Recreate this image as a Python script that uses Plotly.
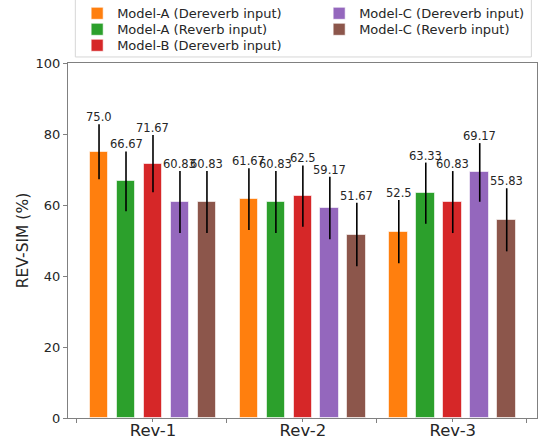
import plotly.graph_objects as go

categories = ["Rev-1", "Rev-2", "Rev-3"]
series_names = ["Model-A (Dereverb input)", "Model-A (Reverb input)",
                "Model-B (Dereverb input)", "Model-C (Dereverb input)",
                "Model-C (Reverb input)"]
values = [
    [75.0, 61.67, 52.5],
    [66.67, 60.83, 63.33],
    [71.67, 62.5, 60.83],
    [60.83, 59.17, 69.17],
    [60.83, 51.67, 55.83],
]
errors = [
    [7.75, 8.70, 8.93],
    [8.43, 8.73, 8.62],
    [8.06, 8.66, 8.73],
    [8.73, 8.79, 8.26],
    [8.73, 8.94, 8.89],
]
labels = [
    ["75.0", "61.67", "52.5"],
    ["66.67", "60.83", "63.33"],
    ["71.67", "62.5", "60.83"],
    ["60.83", "59.17", "69.17"],
    ["60.83", "51.67", "55.83"],
]
colors = ["#ff7f0e", "#2ca02c", "#d62728", "#9467bd", "#8c564b"]
# legend slot (column, row) for each series
legend_col = [0, 0, 0, 1, 1]
legend_row = [0, 1, 2, 0, 1]
yticks = [0, 20, 40, 60, 80, 100]

step = 0.18
width = 0.125
centers = list(range(len(categories)))

col_x = [0.0195, 0.5355]
row_y = [1.1399, 1.0948, 1.0498]

fig = go.Figure()
annotations = []
legends = {}
for i, name in enumerate(series_names):
    off = (i - 2) * step
    xs = [c + off for c in centers]
    lg = "legend" if i == 0 else f"legend{i + 1}"
    legends[lg] = dict(orientation="v", yanchor="middle", y=row_y[legend_row[i]],
                       xanchor="left", x=col_x[legend_col[i]],
                       font=dict(size=13, color="#262626"),
                       bgcolor="rgba(0,0,0,0)", borderwidth=0, itemwidth=30)
    fig.add_trace(go.Bar(
        x=xs, y=values[i], width=width, name=name,
        marker=dict(color=colors[i], line=dict(color="rgba(255,255,255,0.6)", width=1)),
        error_y=dict(type="data", array=errors[i], color="black", thickness=1.6, width=0),
        legend=lg,
    ))
    for x, v, e, t in zip(xs, values[i], errors[i], labels[i]):
        annotations.append(dict(x=x, y=v + e, text=t, showarrow=False,
                                xanchor="center", yanchor="bottom", yshift=-2,
                                font=dict(size=11.5, color="#262626")))

fig.update_layout(
    width=538, height=436,
    margin=dict(l=68, r=1, t=63, b=18, autoexpand=False),
    paper_bgcolor="white", plot_bgcolor="white",
    font=dict(family="DejaVu Sans", color="#262626"),
    bargap=0,
    showlegend=True,
    shapes=[dict(type="rect", xref="paper", yref="paper",
                 x0=0.0156, x1=0.988, y0=1.017, y1=1.25,
                 line=dict(color="#d6d6d6", width=1), fillcolor="white", layer="below")],
    annotations=annotations,
    xaxis=dict(range=[-0.567, 2.562], tickvals=centers, ticktext=categories,
               ticks="outside", ticklen=3, tickcolor="#808080",
               ticklabelstandoff=-6,
               tickfont=dict(size=16.5, color="#262626"),
               showline=True, linecolor="#808080", linewidth=1, mirror=True,
               showgrid=False, zeroline=False,
               minor=dict(tick0=-0.507, dtick=1, ticks="outside", ticklen=4,
                          tickcolor="#808080", showgrid=False)),
    yaxis=dict(range=[0, 100], tickvals=yticks, ticks="outside", ticklen=4,
               tickcolor="#808080", tickfont=dict(size=13, color="#262626"),
               showline=True, linecolor="#808080", linewidth=1, mirror=True,
               showgrid=False, zeroline=False,
               title=dict(text="REV-SIM (%)", font=dict(size=15.5, color="#262626"), standoff=3)),
    **legends,
)

fig.write_html("out.html", config={"displayModeBar": False},
               post_script="document.body.style.margin='0';document.body.style.overflow='hidden';")
